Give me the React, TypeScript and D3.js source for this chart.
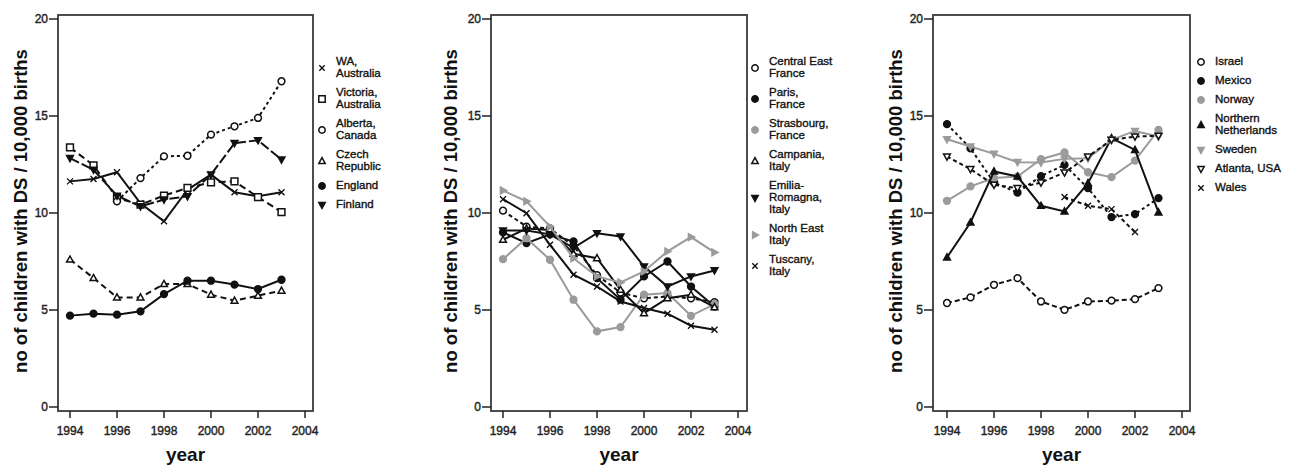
import React, { useEffect, useRef } from "react";
import * as d3 from "d3";

const years = [1994, 1995, 1996, 1997, 1998, 1999, 2000, 2001, 2002, 2003];
const xTicks = [1994, 1996, 1998, 2000, 2002, 2004];
const yTicks = [0, 5, 10, 15, 20];

// panel 1
const waAustralia = [11.63, 11.75, 12.1, 10.5, 9.57, 11.2, 11.98, 11.07, 10.86, 11.07];
const victoriaAustralia = [13.38, 12.46, 10.77, 10.43, 10.9, 11.29, 11.58, 11.63, 10.82, 10.05];
const albertaCanada = [null, null, 10.6, 11.8, 12.92, 12.95, 14.04, 14.47, 14.9, 16.79];
const czechRepublic = [7.6, 6.65, 5.65, 5.65, 6.34, 6.34, 5.79, 5.48, 5.74, 6.0];
const england = [4.71, 4.81, 4.76, 4.93, 5.82, 6.51, 6.51, 6.31, 6.08, 6.56];
const finland = [12.83, 12.23, 10.89, 10.34, 10.69, 10.86, 11.98, 13.6, 13.75, 12.75];

// panel 2
const centralEastFrance = [10.12, 9.3, 9.2, 8.3, 6.8, 5.9, 5.6, 5.7, 5.6, 5.4];
const parisFrance = [9.0, 8.45, 8.9, 8.53, 6.64, 5.53, 6.73, 7.5, 6.21, 5.18];
const strasbourgFrance = [7.62, 8.7, 7.59, 5.53, 3.9, 4.12, 5.79, 5.87, 4.7, 5.3];
const campaniaItaly = [8.62, 9.2, 9.13, 7.9, 7.67, 6.04, 4.84, 5.61, 5.79, 5.15];
const emiliaRomagnaItaly = [9.1, 9.1, 8.9, 8.2, 8.96, 8.79, 7.24, 6.21, 6.73, 7.04];
const northEastItaly = [11.16, 10.6, 9.3, 7.67, 6.73, 6.42, 6.99, 8.02, 8.76, 7.97];
const tuscanyItaly = [10.71, 9.99, 8.36, 6.82, 6.21, 5.44, 5.1, 4.81, 4.19, 3.98];

// panel 3
const israel = [5.36, 5.65, 6.3, 6.64, 5.44, 5.01, 5.44, 5.48, 5.56, 6.13];
const mexico = [14.58, 13.33, 11.57, 11.05, 11.9, 12.48, 11.28, 9.79, 9.94, 10.77];
const norway = [10.63, 11.37, 11.8, 11.88, 12.77, 13.12, 12.1, 11.85, 12.7, 14.28];
const northernNetherlands = [7.71, 9.51, 12.14, 11.88, 10.37, 10.08, 11.54, 13.86, 13.25, 10.03];
const sweden = [13.8, 13.43, 13.05, 12.62, 12.6, 12.79, 12.82, 13.77, 14.23, 13.94];
const atlantaUSA = [12.91, 12.26, 11.45, 11.28, 11.57, 12.09, 12.91, 13.77, 13.94, 13.98];
const wales = [null, null, null, null, null, 10.82, 10.37, 10.2, 9.02, null];

const BLACK = "#111";
const GREY = "#9b9b9b";

const panels = [
  {
    frame: [58, 313], xr: [70, 305], titleX: 22, legX: 322,
    series: [
      { label: ["WA,", "Australia"], values: waAustralia, mark: "x", fill: false, color: BLACK, dash: null },
      { label: ["Victoria,", "Australia"], values: victoriaAustralia, mark: "square", fill: false, color: BLACK, dash: "7,4" },
      { label: ["Alberta,", "Canada"], values: albertaCanada, mark: "circle", fill: false, color: BLACK, dash: "3,3" },
      { label: ["Czech", "Republic"], values: czechRepublic, mark: "up", fill: false, color: BLACK, dash: "6,4" },
      { label: ["England"], values: england, mark: "circle", fill: true, color: BLACK, dash: null },
      { label: ["Finland"], values: finland, mark: "down", fill: true, color: BLACK, dash: "10,3" },
    ],
  },
  {
    frame: [491, 747], xr: [503, 738], titleX: 452, legX: 755,
    series: [
      { label: ["Central East", "France"], values: centralEastFrance, mark: "circle", fill: false, color: BLACK, dash: "4,3" },
      { label: ["Paris,", "France"], values: parisFrance, mark: "circle", fill: true, color: BLACK, dash: null },
      { label: ["Strasbourg,", "France"], values: strasbourgFrance, mark: "circle", fill: true, color: GREY, dash: null },
      { label: ["Campania,", "Italy"], values: campaniaItaly, mark: "up", fill: false, color: BLACK, dash: null },
      { label: ["Emilia-", "Romagna,", "Italy"], values: emiliaRomagnaItaly, mark: "down", fill: true, color: BLACK, dash: null },
      { label: ["North East", "Italy"], values: northEastItaly, mark: "right", fill: true, color: GREY, dash: null },
      { label: ["Tuscany,", "Italy"], values: tuscanyItaly, mark: "x", fill: false, color: BLACK, dash: null },
    ],
  },
  {
    frame: [933, 1190], xr: [947, 1182], titleX: 897, legX: 1201,
    series: [
      { label: ["Israel"], values: israel, mark: "circle", fill: false, color: BLACK, dash: "5,3" },
      { label: ["Mexico"], values: mexico, mark: "circle", fill: true, color: BLACK, dash: "3,3" },
      { label: ["Norway"], values: norway, mark: "circle", fill: true, color: GREY, dash: null },
      { label: ["Northern", "Netherlands"], values: northernNetherlands, mark: "up", fill: true, color: BLACK, dash: null },
      { label: ["Sweden"], values: sweden, mark: "down", fill: true, color: GREY, dash: null },
      { label: ["Atlanta, USA"], values: atlantaUSA, mark: "down", fill: false, color: BLACK, dash: "4,3" },
      { label: ["Wales"], values: wales, mark: "x", fill: false, color: BLACK, dash: "4,3" },
    ],
  },
];

const markerPath = (kind, r) => {
  switch (kind) {
    case "up":
      return `M0,${-r * 1.05}L${r},${r * 0.75}L${-r},${r * 0.75}Z`;
    case "down":
      return `M0,${r * 1.05}L${r},${-r * 0.75}L${-r},${-r * 0.75}Z`;
    case "right":
      return `M${r * 1.05},0L${-r * 0.75},${r}L${-r * 0.75},${-r}Z`;
    case "square":
      return `M${-r},${-r}H${r}V${r}H${-r}Z`;
    case "x":
      return `M${-r},${-r}L${r},${r}M${-r},${r}L${r},${-r}`;
    default:
      return d3.arc()({ innerRadius: 0, outerRadius: r, startAngle: 0, endAngle: 2 * Math.PI });
  }
};

const drawMarker = (g, kind, fill, color, x, y, r) => {
  g.append("path")
    .attr("d", markerPath(kind, r))
    .attr("transform", `translate(${x},${y})`)
    .attr("fill", kind === "x" ? "none" : fill ? color : "white")
    .attr("stroke", color)
    .attr("stroke-width", kind === "x" ? 1.4 : 1.5);
};

const FONT = "Arial, 'Liberation Sans', Helvetica, sans-serif";
const TOP = 15;
const BOTTOM = 411;

const App = () => {
  const ref = useRef(null);

  useEffect(() => {
    const svg = d3.select(ref.current);
    svg.selectAll("*").remove();

    const y = d3.scaleLinear().domain([0, 20]).range([407, 19]);

    panels.forEach((p) => {
      const g = svg.append("g");
      const x = d3.scaleLinear().domain([1994, 2004]).range(p.xr);
      const [fl, fr] = p.frame;

      // frame
      g.append("rect")
        .attr("x", fl).attr("y", TOP)
        .attr("width", fr - fl).attr("height", BOTTOM - TOP)
        .attr("fill", "none").attr("stroke", "#3a3a3a").attr("stroke-width", 1.8);

      // y ticks
      yTicks.forEach((t) => {
        g.append("line")
          .attr("x1", fl - 9).attr("x2", fl)
          .attr("y1", y(t)).attr("y2", y(t))
          .attr("stroke", "#222").attr("stroke-width", 1.5);
        g.append("text")
          .attr("x", fl - 10).attr("y", y(t) + 4)
          .attr("text-anchor", "end")
          .attr("font-family", FONT).attr("font-size", 12)
          .attr("fill", "#222").attr("stroke", "#222").attr("stroke-width", 0.4)
          .text(t);
      });

      // x ticks
      xTicks.forEach((t) => {
        g.append("line")
          .attr("x1", x(t)).attr("x2", x(t))
          .attr("y1", BOTTOM).attr("y2", BOTTOM + 7)
          .attr("stroke", "#222").attr("stroke-width", 1.5);
        g.append("text")
          .attr("x", x(t)).attr("y", BOTTOM + 24)
          .attr("text-anchor", "middle")
          .attr("font-family", FONT).attr("font-size", 12)
          .attr("fill", "#222").attr("stroke", "#222").attr("stroke-width", 0.4)
          .text(t);
      });

      // axis titles
      g.append("text")
        .attr("transform", `translate(${p.titleX},${(TOP + BOTTOM) / 2 - 2}) rotate(-90)`)
        .attr("text-anchor", "middle").attr("dominant-baseline", "middle")
        .attr("font-family", FONT).attr("font-size", 18.5).attr("font-weight", "bold")
        .attr("fill", "#111")
        .text("no of children with DS / 10,000 births");
      g.append("text")
        .attr("x", (fl + fr) / 2).attr("y", 461)
        .attr("text-anchor", "middle")
        .attr("font-family", FONT).attr("font-size", 19).attr("font-weight", "bold")
        .attr("fill", "#111")
        .text("year");

      // series
      const line = d3.line()
        .defined((d) => d[1] != null)
        .x((d) => x(d[0]))
        .y((d) => y(d[1]));

      p.series.forEach((s) => {
        const pts = years.map((yr, i) => [yr, s.values[i]]);
        g.append("path")
          .attr("d", line(pts))
          .attr("fill", "none")
          .attr("stroke", s.color)
          .attr("stroke-width", 2)
          .attr("stroke-dasharray", s.dash);
        pts.filter((d) => d[1] != null).forEach((d) => {
          drawMarker(g, s.mark, s.fill, s.color, x(d[0]), y(d[1]), s.mark === "x" ? 3 : 3.4);
        });
      });

      // legend
      let ly = 62;
      const lineH = 12;
      p.series.forEach((s) => {
        const n = s.label.length;
        const cy = ly + ((n - 1) * lineH) / 2;
        drawMarker(g, s.mark, s.fill, s.color, p.legX, cy, s.mark === "x" ? 2.7 : 3.2);
        s.label.forEach((t, i) => {
          g.append("text")
            .attr("x", p.legX + 14).attr("y", ly + i * lineH)
            .attr("dominant-baseline", "middle")
            .attr("font-family", FONT).attr("font-size", 11.5)
            .attr("fill", "#111").attr("stroke", "#111").attr("stroke-width", 0.35)
            .text(t);
        });
        ly += n * lineH + 7;
      });
    });
  }, []);

  return (
    <svg
      ref={ref}
      width={1294}
      height={466}
      style={{ position: "absolute", left: 0, top: 0, background: "white" }}
    />
  );
};

export default App;
